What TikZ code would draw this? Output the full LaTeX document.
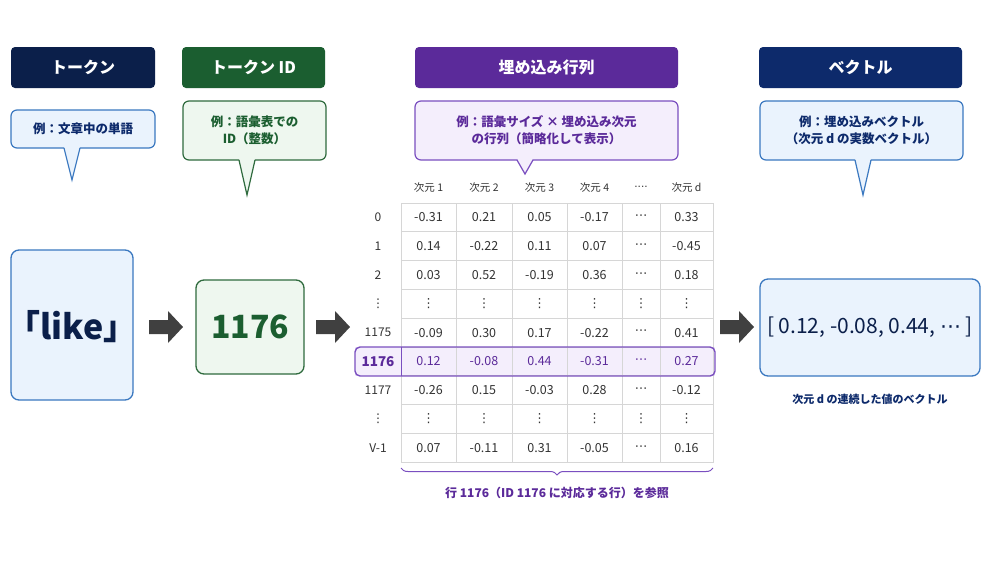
\documentclass[tikz,border=0pt]{standalone}
\usepackage{fontspec}
\setmainfont{Noto Sans CJK JP}
\newfontfamily\dejavu{DejaVu Sans}
\newcommand{\vd}{{\dejavu ⋮}}
\newcommand{\hd}{{\dejavu ⋯}}
\usetikzlibrary{decorations.pathreplacing,calc}
\definecolor{navyA}{HTML}{0B1F4A}
\definecolor{navyB}{HTML}{0D2A6B}
\definecolor{greenD}{HTML}{1B5E30}
\definecolor{purp}{HTML}{5B2A9A}
\definecolor{blueB}{HTML}{3A78C0}
\definecolor{blueF}{HTML}{EAF3FD}
\definecolor{greenB}{HTML}{2F6B3E}
\definecolor{greenF}{HTML}{EEF7EF}
\definecolor{purpB}{HTML}{7A4FC0}
\definecolor{purpF}{HTML}{F4EEFC}
\definecolor{gridc}{HTML}{D6D6D6}
\definecolor{txt}{HTML}{333333}
\newcommand{\mycallout}[9]{%
  \filldraw[draw=#8,fill=#9,line width=1.2pt,rounded corners=6pt] (#2,#3) rectangle (#4,#5);
  \fill[#9] (#6-8,#5-1.5) -- (#6,#7) -- (#6+8,#5-1.5) -- cycle;
  \draw[#8,line width=1.2pt,line join=miter] (#6-8,#5) -- (#6,#7) -- (#6+8,#5);
  \coordinate (#1) at ($(#2,#3)!0.5!(#4,#5)$);}
\newcommand{\blockarrow}[2]{% left x, name
  \fill[black!75] (#1,320) -- (#1+19,320) -- (#1+19,311) -- (#1+34,327) -- (#1+19,343) -- (#1+19,334) -- (#1,334) -- cycle;
  \coordinate (#2) at (#1+17,327);}
\begin{document}
\begin{tikzpicture}[x=1pt,y=-1pt,
  hdr/.style={text=white,font=\bfseries\fontsize{16}{19}\selectfont,inner sep=0},
  ctext/.style={align=center,font=\bfseries\fontsize{12.5}{17}\selectfont},
  cell/.style={draw=gridc,line width=0.7pt,minimum height=28.8pt,inner sep=0,font=\fontsize{12.5}{14}\selectfont,text=txt}]
\useasboundingbox (0,0) rectangle (1000,563);
\fill[white] (0,0) rectangle (1000,563);
% headers
\fill[navyA,rounded corners=4pt] (11,47) rectangle (155,88);
\node[hdr] (h1) at (83,67.5) {トークン};
\fill[greenD,rounded corners=4pt] (182,47) rectangle (325,88);
\node[hdr] (h2) at (253.5,67.5) {トークン ID};
\fill[purp,rounded corners=4pt] (415,47) rectangle (678,88);
\node[hdr] (h3) at (546.5,67.5) {埋め込み行列};
\fill[navyB,rounded corners=4pt] (759,47) rectangle (962,88);
\node[hdr] (h4) at (860.5,67.5) {ベクトル};
% callouts
\mycallout{c1}{11}{110}{155}{148}{72}{180}{blueB}{blueF}
\node[ctext,text=navyB] (t1) at (c1) {例：文章中の単語};
\mycallout{c2}{183}{101}{326}{160}{247}{195}{greenB}{greenF}
\node[ctext,text=greenD] (t2) at (c2) {例：語彙表での\\ID（整数）};
\mycallout{c3}{415}{101}{678}{160}{525}{174}{purpB}{purpF}
\node[ctext,text=purp] (t3) at (c3) {例：語彙サイズ × 埋め込み次元\\の行列（簡略化して表示）};
\mycallout{c4}{760}{101}{963}{160}{863}{195}{blueB}{blueF}
\node[ctext,text=navyB] (t4) at (c4) {例：埋め込みベクトル\\（次元 \textit{d} の実数ベクトル）};
% boxes
\filldraw[draw=blueB,fill=blueF,line width=1.3pt,rounded corners=8pt] (11,250) rectangle (133,400);
\node[font=\bfseries\fontsize{34}{38}\selectfont,text=navyA] (like) at (72,327) {「like」};
\blockarrow{149}{a1}
\filldraw[draw=greenB,fill=greenF,line width=1.3pt,rounded corners=8pt] (196,280) rectangle (304,374);
\node[font=\bfseries\fontsize{32}{36}\selectfont,text=greenD] (id) at (250,327) {1176};
\blockarrow{316}{a2}
\blockarrow{720}{a3}
\filldraw[draw=blueB,fill=blueF,line width=1.3pt,rounded corners=8pt] (760,279) rectangle (980,376);
\node[font=\fontsize{21}{24}\selectfont,text=navyA] (vec) at (870,327) {[ 0.12, -0.08, 0.44, \hd\ ]};
\node[font=\bfseries\fontsize{11}{13}\selectfont,text=navyB] (vcap) at (870,399) {次元 \textit{d} の連続した値のベクトル};
% table
\fill[purpF] (355,347) rectangle (715,376);
\def\cx{{428.5,484,539.5,594.5,641,686.5}}
\def\cw{{55,56,55,55,38,53}}
\foreach \h [count=\j from 0] in {次元 1,次元 2,次元 3,次元 4,{\dejavu ····},次元 \textit{d}}
  \node[font=\fontsize{10.5}{12}\selectfont,text=txt] (hd\j) at ({\cx[\j]},188) {\h};
\foreach \lab/\vals [count=\i from 0] in {
  0/{-0.31,0.21,0.05,-0.17,\hd,0.33},
  1/{0.14,-0.22,0.11,0.07,\hd,-0.45},
  2/{0.03,0.52,-0.19,0.36,\hd,0.18},
  \vd/{\vd,\vd,\vd,\vd,\vd,\vd},
  1175/{-0.09,0.30,0.17,-0.22,\hd,0.41},
  1176/{0.12,-0.08,0.44,-0.31,\hd,0.27},
  1177/{-0.26,0.15,-0.03,0.28,\hd,-0.12},
  \vd/{\vd,\vd,\vd,\vd,\vd,\vd},
  V-1/{0.07,-0.11,0.31,-0.05,\hd,0.16}} {
  \pgfmathsetmacro\yy{217.4+28.8*\i}
  \ifnum\i=5
    \node[font=\bfseries\fontsize{13.5}{15}\selectfont,text=purp] (r\i) at (378,\yy) {\lab};
  \else
    \node[font=\fontsize{12}{14}\selectfont,text=txt] (r\i) at (378,\yy) {\lab};
  \fi
  \foreach \v [count=\k from 0] in \vals {
    \ifnum\i=5
      \node[cell,text=purp,minimum width={\cw[\k]*1pt}] (m\i\k) at ({\cx[\k]},\yy) {\v};
    \else
      \node[cell,minimum width={\cw[\k]*1pt}] (m\i\k) at ({\cx[\k]},\yy) {\v};
    \fi
  }
}
\draw[purpB,line width=1.4pt,rounded corners=5pt] (355,347) rectangle (715,376);
\draw[purpB,line width=0.8pt] (401,347) -- (401,376);
\draw[purpB,line width=1pt,decorate,decoration={brace,mirror,amplitude=7pt}] (401,468) -- (713,468);
\node[font=\bfseries\fontsize{12}{14}\selectfont,text=purp] (bcap) at (557,493) {行 1176（ID 1176 に対応する行）を参照};
\end{tikzpicture}
\end{document}
